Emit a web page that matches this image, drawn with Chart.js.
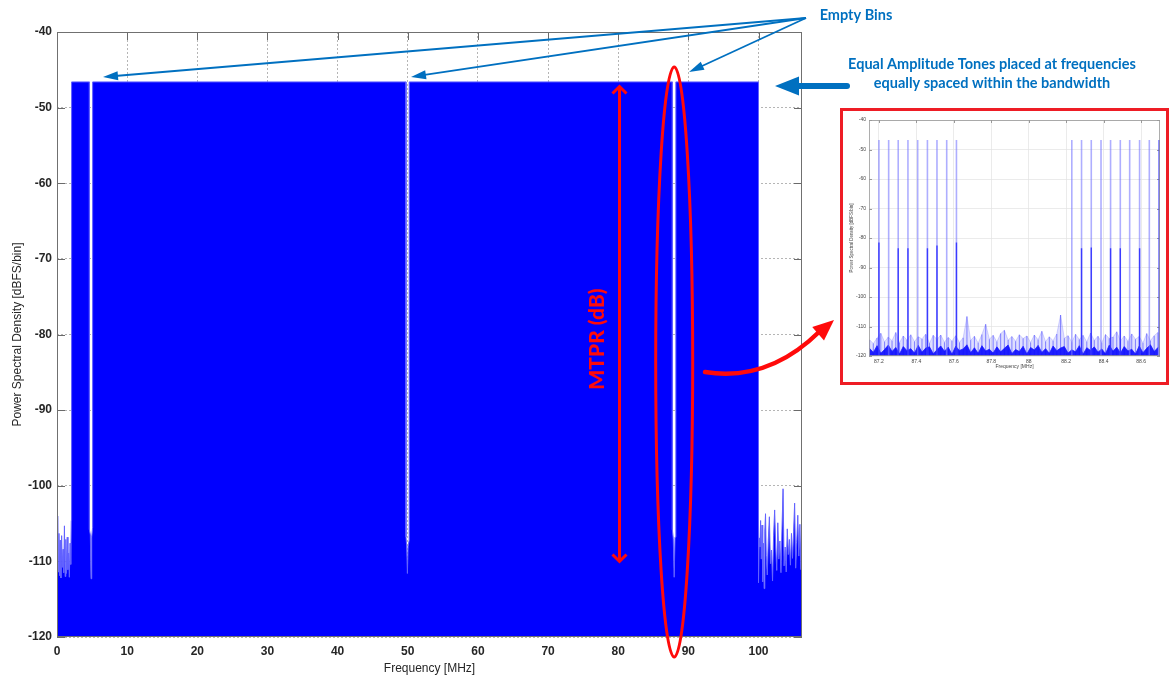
<!DOCTYPE html>
<html><head><meta charset="utf-8">
<script src="https://cdn.jsdelivr.net/npm/chart.js@4.4.1/dist/chart.umd.min.js"></script>
<style>
html,body{margin:0;padding:0;background:#fff;overflow:hidden;}
#wrap{position:relative;width:1169px;height:676px;}
#main{position:absolute;left:0;top:0;}
#insetBox{position:absolute;left:840px;top:108px;width:329px;height:277px;border:3px solid #ee1d25;box-sizing:border-box;background:#fff;}
#inset{position:absolute;left:0;top:0;}
</style></head><body>
<div id="wrap">
<canvas id="main" width="1169" height="676"></canvas>
<div id="insetBox"><canvas id="inset" width="323" height="271"></canvas></div>
</div>
<script>
// ---------- main spectrum ----------
const xTickValues = [0,10,20,30,40,50,60,70,80,90,100];
const yTickValues = [-40,-50,-60,-70,-80,-90,-100,-110,-120];
const psdFreqMHz = [
  0.00,0.10,0.19,0.28,0.37,0.46,0.56,0.66,0.76,0.86,0.96,1.06,1.16,1.26,1.36,1.46,1.56,1.66,1.76,1.86,1.96,2.04,2.08,2.08,
  4.62,4.62,4.75,4.85,4.95,5.08,5.08,
  49.75,49.75,49.85,49.95,50.05,50.20,50.20,
  87.72,87.72,87.85,87.98,88.10,88.22,88.22,
  100.00,100.00,100.10,100.20,100.30,100.40,100.50,100.60,100.70,100.80,100.90,101.00,101.10,101.25,101.40,101.55,101.70,101.85,
  102.00,102.15,102.30,102.45,102.60,102.75,102.90,103.05,103.20,103.35,103.50,103.65,103.80,103.95,104.10,104.25,104.40,104.55,
  104.70,104.85,105.00,105.15,105.30,105.45,105.60,105.75,105.90,106.05,106.20
];
const psdDbfs = [
  -108.6,-104.0,-111.4,-106.3,-111.9,-107.2,-112.2,-106.6,-110.8,-108.4,-111.5,-105.3,-112.0,-107.1,-111.6,-106.8,-111.1,-108.9,-112.1,-107.6,-110.4,-104.6,-103.2,-46.6,
  -46.6,-105.8,-106.5,-112.3,-106.8,-105.5,-46.6,
  -46.6,-106.8,-108.0,-111.6,-108.0,-107.2,-46.6,
  -46.6,-105.8,-107.0,-112.1,-106.8,-105.6,-46.6,
  -46.6,-112.8,-106.9,-108.1,-104.6,-109.7,-105.2,-112.7,-107.6,-113.6,-106.0,-103.7,-109.2,-111.8,-107.1,-104.1,-110.3,-108.5,
  -112.6,-106.6,-103.2,-108.1,-111.2,-104.9,-109.7,-107.3,-111.5,-105.6,-100.4,-110.6,-108.1,-111.4,-105.7,-109.1,-107.1,-110.5,
  -106.3,-109.6,-106.1,-102.3,-110.9,-107.5,-103.9,-109.3,-105.1,-111.1,-104.6
];

// ---------- inset (zoom around 88 MHz) ----------
const insetXTicks = [87.2,87.4,87.6,87.8,88.0,88.2,88.4,88.6];
const insetYTicks = [-40,-50,-60,-70,-80,-90,-100,-110,-120];
const insetToneFreq = [87.200,87.252,87.303,87.355,87.407,87.459,87.510,87.562,87.614,
                       88.230,88.282,88.334,88.386,88.437,88.489,88.539,88.592,88.644,88.697];
const insetToneTop = [-46.8,-46.8,-46.8,-46.8,-46.8,-46.8,-46.8,-46.8,-46.8,
                      -46.8,-46.8,-46.8,-46.8,-46.8,-46.8,-46.8,-46.8,-46.8,-46.8];
const insetToneCore = [-81.5,null,-83.5,-83.5,null,-83.5,-82.5,null,-81.5,
                       null,-83.5,-83.2,null,-83.5,-83.5,null,-83.5,null,-46.8];
const insetBinStart = 87.15, insetBinStep = 0.02;
const insetNoisePeak = [
  -114.5,-115.8,-113.9,-112.3,-115.2,-113.6,-114.8,-112.0,-115.5,-113.2,
  -114.6,-112.8,-115.1,-113.5,-114.2,-112.6,-115.7,-113.0,-114.4,-112.9,
  -115.3,-113.7,-114.9,-113.1,-115.4,-113.8,-106.6,-114.7,-113.3,-115.6,
  -112.7,-109.2,-114.3,-113.0,-115.2,-112.4,-111.3,-114.6,-113.4,-115.0,
  -112.8,-114.1,-113.2,-115.4,-112.9,-114.5,-111.6,-115.1,-113.5,-114.8,
  -112.5,-106.1,-114.0,-113.1,-115.3,-112.6,-114.4,-113.0,-115.2,-112.2,
  -114.7,-113.3,-115.5,-112.7,-114.1,-113.6,-111.8,-114.9,-113.2,-115.0,
  -112.5,-114.3,-113.4,-115.6,-112.4,-114.8,-113.1,-112.0
];
const insetNoiseCore = [
  -117.4,-118.8,-116.5,-119.1,-117.8,-116.3,-118.5,-117.1,-119.3,-116.8,
  -118.2,-117.5,-119.0,-116.4,-118.7,-117.3,-116.9,-119.2,-117.9,-116.6,
  -118.4,-117.0,-119.4,-116.7,-118.1,-117.6,-116.2,-118.9,-117.2,-119.1,
  -116.5,-118.3,-117.7,-119.0,-116.9,-118.6,-117.4,-116.3,-119.2,-117.8,
  -118.5,-116.7,-119.3,-117.1,-118.0,-116.4,-118.8,-117.5,-119.1,-116.6,
  -118.2,-117.3,-116.8,-119.0,-117.9,-118.6,-116.5,-119.4,-117.2,-118.1,
  -116.9,-118.7,-117.6,-119.2,-116.3,-118.4,-117.0,-119.0,-116.8,-118.3,
  -117.7,-119.3,-116.6,-118.9,-117.4,-116.2,-118.5,-117.1
];

const TXT = '#262626';
const FONT = 'Liberation Sans';

function frameAndTicks(tickLen, tickColor, frameColor, frameWidth, xt, yt) {
  return {
    id: 'frameTicks',
    beforeDatasetsDraw(chart) {
      const {ctx, chartArea: a, scales: {x, y}} = chart;
      ctx.save();
      ctx.strokeStyle = tickColor; ctx.lineWidth = 1;
      ctx.beginPath();
      xt.forEach(v => { const p = Math.round(x.getPixelForValue(v)) + 0.5;
        ctx.moveTo(p, a.top); ctx.lineTo(p, a.top + tickLen);
        ctx.moveTo(p, a.bottom); ctx.lineTo(p, a.bottom - tickLen); });
      yt.forEach(v => { const p = Math.round(y.getPixelForValue(v)) + 0.5;
        ctx.moveTo(a.left, p); ctx.lineTo(a.left + tickLen, p);
        ctx.moveTo(a.right, p); ctx.lineTo(a.right - tickLen, p); });
      ctx.stroke();
      ctx.restore();
    },
    afterDatasetsDraw(chart) {
      const {ctx, chartArea: a} = chart;
      ctx.save();
      ctx.strokeStyle = frameColor; ctx.lineWidth = frameWidth;
      ctx.strokeRect(a.left + 0.5, a.top + 0.5, a.right - a.left - 1, a.bottom - a.top - 1);
      ctx.restore();
    }
  };
}

function head(ctx, x1, y1, x2, y2, len, half) {
  const a = Math.atan2(y2 - y1, x2 - x1), c = Math.cos(a), s = Math.sin(a);
  ctx.beginPath();
  ctx.moveTo(x2, y2);
  ctx.lineTo(x2 - len * c + half * s, y2 - len * s - half * c);
  ctx.lineTo(x2 - len * c - half * s, y2 - len * s + half * c);
  ctx.closePath();
  ctx.fill();
}
function shaft(ctx, x1, y1, x2, y2, len) {
  const a = Math.atan2(y2 - y1, x2 - x1);
  ctx.beginPath(); ctx.moveTo(x1, y1);
  ctx.lineTo(x2 - len * 0.8 * Math.cos(a), y2 - len * 0.8 * Math.sin(a)); ctx.stroke();
}

const annotations = {
  id: 'annotations',
  afterDraw(chart) {
    const ctx = chart.ctx;
    ctx.save();
    const blue = '#0070c0';
    ctx.fillStyle = blue; ctx.strokeStyle = blue;
    ctx.font = 'bold 14.5px Lato';
    ctx.textAlign = 'center'; ctx.textBaseline = 'alphabetic';
    ctx.fillText('Empty Bins', 856, 20);
    ctx.fillText('Equal Amplitude Tones placed at frequencies', 992, 69);
    ctx.fillText('equally spaced within the bandwidth', 992, 88);
    ctx.lineWidth = 1.8;
    const src = [806, 18];
    [[103, 77], [411, 77], [689, 72]].forEach(t => {
      shaft(ctx, src[0], src[1], t[0], t[1], 15);
      head(ctx, src[0], src[1], t[0], t[1], 15, 4.5);
    });
    ctx.lineWidth = 6; ctx.lineCap = 'round';
    ctx.beginPath(); ctx.moveTo(847, 86); ctx.lineTo(795, 86); ctx.stroke();
    ctx.lineCap = 'butt';
    head(ctx, 848, 86, 775, 86, 24, 9.5);

    const red = '#ff0a0a';
    ctx.strokeStyle = red; ctx.fillStyle = red;
    ctx.lineWidth = 3;
    ctx.beginPath(); ctx.ellipse(674.2, 362, 18.5, 295, 0, 0, Math.PI * 2); ctx.stroke();
    ctx.beginPath(); ctx.moveTo(619.5, 87); ctx.lineTo(619.5, 561); ctx.stroke();
    ctx.lineJoin = 'miter';
    ctx.beginPath(); ctx.moveTo(612.5, 93.5); ctx.lineTo(619.5, 86.5); ctx.lineTo(626.5, 93.5); ctx.stroke();
    ctx.beginPath(); ctx.moveTo(612.5, 554.5); ctx.lineTo(619.5, 561.5); ctx.lineTo(626.5, 554.5); ctx.stroke();
    ctx.save();
    ctx.translate(597, 339); ctx.rotate(-Math.PI / 2);
    ctx.font = '900 21px Lato'; ctx.textAlign = 'center'; ctx.textBaseline = 'middle';
    ctx.fillText('MTPR (dB)', 0, 0);
    ctx.restore();
    ctx.lineWidth = 4.5; ctx.lineCap = 'round';
    ctx.beginPath(); ctx.moveTo(705, 372); ctx.quadraticCurveTo(768, 382, 819, 332); ctx.stroke();
    head(ctx, 812, 339, 834, 320, 21, 9);
    ctx.restore();
  }
};

const mainPoints = psdFreqMHz.map((f, i) => ({x: f, y: psdDbfs[i]}));
new Chart(document.getElementById('main'), {
  type: 'line',
  data: {datasets: [{
    data: mainPoints, borderColor: '#6262ff', borderWidth: 1,
    backgroundColor: '#0000ff', fill: 'start', pointRadius: 0, tension: 0
  }]},
  options: {
    responsive: false, animation: false, devicePixelRatio: 1,
    layout: {padding: {left: 0, top: 32, right: 367, bottom: 0}},
    plugins: {legend: {display: false}, tooltip: {enabled: false}},
    scales: {
      x: {
        type: 'linear', min: 0, max: 106.2,
        afterFit: s => { s.height = 39; },
        afterBuildTicks: s => { s.ticks = xTickValues.map(v => ({value: v})); },
        grid: {color: '#b5b5b5', lineWidth: 1, drawTicks: false},
        border: {display: false, dash: [2, 2]},
        ticks: {padding: 7, color: TXT, maxRotation: 0, autoSkip: false,
                font: {family: FONT, size: 12, weight: 'bold'}},
        title: {display: true, text: 'Frequency [MHz]', color: TXT,
                font: {family: FONT, size: 12}, padding: {top: 0, bottom: 0}}
      },
      y: {
        type: 'linear', min: -120, max: -40,
        afterFit: s => { s.width = 57; },
        afterBuildTicks: s => { s.ticks = yTickValues.map(v => ({value: v})); },
        grid: {color: '#b5b5b5', lineWidth: 1, drawTicks: false},
        border: {display: false, dash: [2, 2]},
        ticks: {padding: 5, color: TXT, autoSkip: false,
                font: {family: FONT, size: 12, weight: 'bold'}},
        title: {display: true, text: 'Power Spectral Density [dBFS/bin]', color: TXT,
                font: {family: FONT, size: 12}, padding: {top: 10, bottom: 0}}
      }
    }
  },
  plugins: [frameAndTicks(8, '#6a6a6a', '#707070', 1, xTickValues, yTickValues), annotations]
});

// ---------- inset chart ----------
const toneLight = [], toneDark = [], peakStems = [];
insetToneFreq.forEach((f, i) => {
  toneLight.push({x: f, y: -120}, {x: f, y: insetToneTop[i]}, {x: f, y: null});
  if (insetToneCore[i] !== null) toneDark.push({x: f, y: -120}, {x: f, y: insetToneCore[i]}, {x: f, y: null});
});
insetNoisePeak.forEach((v, i) => {
  const f = insetBinStart + i * insetBinStep;
  peakStems.push({x: f, y: -120}, {x: f, y: v}, {x: f, y: null});
});
const peakPts = insetNoisePeak.map((v, i) => ({x: insetBinStart + i * insetBinStep, y: v}));
const corePts = insetNoiseCore.map((v, i) => ({x: insetBinStart + i * insetBinStep, y: v}));

new Chart(document.getElementById('inset'), {
  type: 'line',
  data: {datasets: [
    {data: peakPts, order: 5, borderColor: 'rgba(90,90,255,0.35)', borderWidth: 0.7,
     backgroundColor: 'rgba(110,110,255,0.22)', fill: 'start', pointRadius: 0, tension: 0},
    {data: peakStems, order: 4, borderColor: 'rgba(60,60,255,0.55)', borderWidth: 1.1,
     fill: false, pointRadius: 0, spanGaps: false},
    {data: corePts, order: 3, borderColor: 'rgba(20,20,255,0.9)', borderWidth: 0.8,
     backgroundColor: 'rgba(10,10,255,0.9)', fill: 'start', pointRadius: 0, tension: 0},
    {data: toneLight, order: 2, borderColor: 'rgba(120,120,255,0.6)', borderWidth: 1.6,
     fill: false, pointRadius: 0, spanGaps: false},
    {data: toneDark, order: 1, borderColor: 'rgba(40,40,255,0.85)', borderWidth: 1.4,
     fill: false, pointRadius: 0, spanGaps: false}
  ]},
  options: {
    responsive: false, animation: false, devicePixelRatio: 1,
    layout: {padding: {left: 0, top: 9, right: 6, bottom: 0}},
    plugins: {legend: {display: false}, tooltip: {enabled: false}},
    scales: {
      x: {
        type: 'linear', min: 87.147, max: 88.701,
        afterFit: s => { s.height = 26; },
        afterBuildTicks: s => { s.ticks = insetXTicks.map(v => ({value: v})); },
        grid: {color: '#e3e3e3', lineWidth: 0.7, drawTicks: false},
        border: {display: false},
        ticks: {padding: 3, color: '#444', maxRotation: 0, autoSkip: false,
                font: {family: FONT, size: 5},
                callback: v => String(Number(v.toFixed(1)))},
        title: {display: true, text: 'Frequency [MHz]', color: '#444',
                font: {family: FONT, size: 5}, padding: {top: 0, bottom: 12}}
      },
      y: {
        type: 'linear', min: -120, max: -40,
        afterFit: s => { s.width = 26; },
        afterBuildTicks: s => { s.ticks = insetYTicks.map(v => ({value: v})); },
        grid: {color: '#e3e3e3', lineWidth: 0.7, drawTicks: false},
        border: {display: false},
        ticks: {padding: 3, color: '#444', autoSkip: false, font: {family: FONT, size: 5}},
        title: {display: true, text: 'Power Spectral Density [dBFS/bin]', color: '#444',
                font: {family: FONT, size: 4.5}, padding: {top: 6.5, bottom: 0}}
      }
    }
  },
  plugins: [frameAndTicks(3, '#999', '#9a9a9a', 0.8, insetXTicks, insetYTicks)]
});
</script>
</body></html>
